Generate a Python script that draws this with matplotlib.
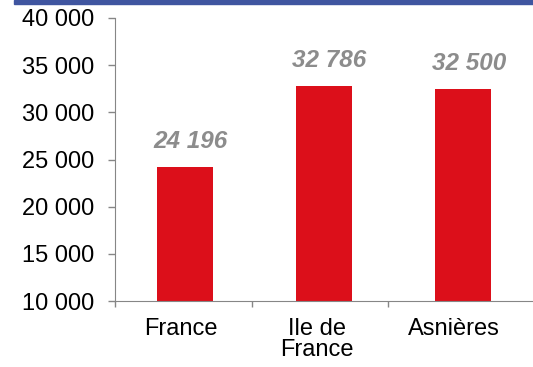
import matplotlib.pyplot as plt
from matplotlib.patches import Rectangle
from matplotlib.ticker import FuncFormatter, FixedLocator

plt.rcParams['font.family'] = ['Liberation Sans', 'DejaVu Sans']

categories = ["France", "Ile de\nFrance", "Asnières"]
values = [24196, 32786, 32500]
y_ticks = [10000, 15000, 20000, 25000, 30000, 35000, 40000]

fig = plt.figure(figsize=(5.33, 3.67), dpi=100)
ax = fig.add_axes([115 / 533, 66 / 367, 418 / 533, 283 / 367])

# blue band along the top
fig.patches.append(Rectangle((14 / 533, 363 / 367), 1, 4 / 367,
                             transform=fig.transFigure, color="#3f55a0", zorder=0))

x = list(range(len(categories)))
ax.bar(x, [v - 10000 for v in values], bottom=10000, width=0.4, color="#dc0f1a")

for xi, v in zip(x, values):
    ax.annotate(f"{v:,}".replace(",", " "), (xi, v + 1500), xytext=(4, 0),
                textcoords="offset points", ha="center", va="bottom",
                fontsize=17.5, fontweight="bold", fontstyle="italic", color="#8c8c8c")

ax.set_ylim(10000, 40000)
ax.set_xlim(-0.5, 2.5)
ax.set_yticks(y_ticks)
ax.yaxis.set_major_formatter(FuncFormatter(lambda v, p: f"{int(v):,}".replace(",", " ")))

# category labels sit a little left of the bars
ax.set_xticks([i - 0.03 - 0.02 * i for i in x])
ax.set_xticklabels(categories, fontsize=17, linespacing=0.95)
ax.tick_params(axis="x", length=0, pad=12)
ax.xaxis.set_minor_locator(FixedLocator([-0.5, 0.48, 1.46]))
ax.tick_params(axis="x", which="minor", length=4.5, color="#868686", width=1)
ax.tick_params(axis="y", labelsize=17, length=5, color="#868686", width=1, pad=10)

for side in ["top", "right"]:
    ax.spines[side].set_visible(False)
for side in ["left", "bottom"]:
    ax.spines[side].set_color("#868686")

fig.savefig("out.png", dpi=100)
